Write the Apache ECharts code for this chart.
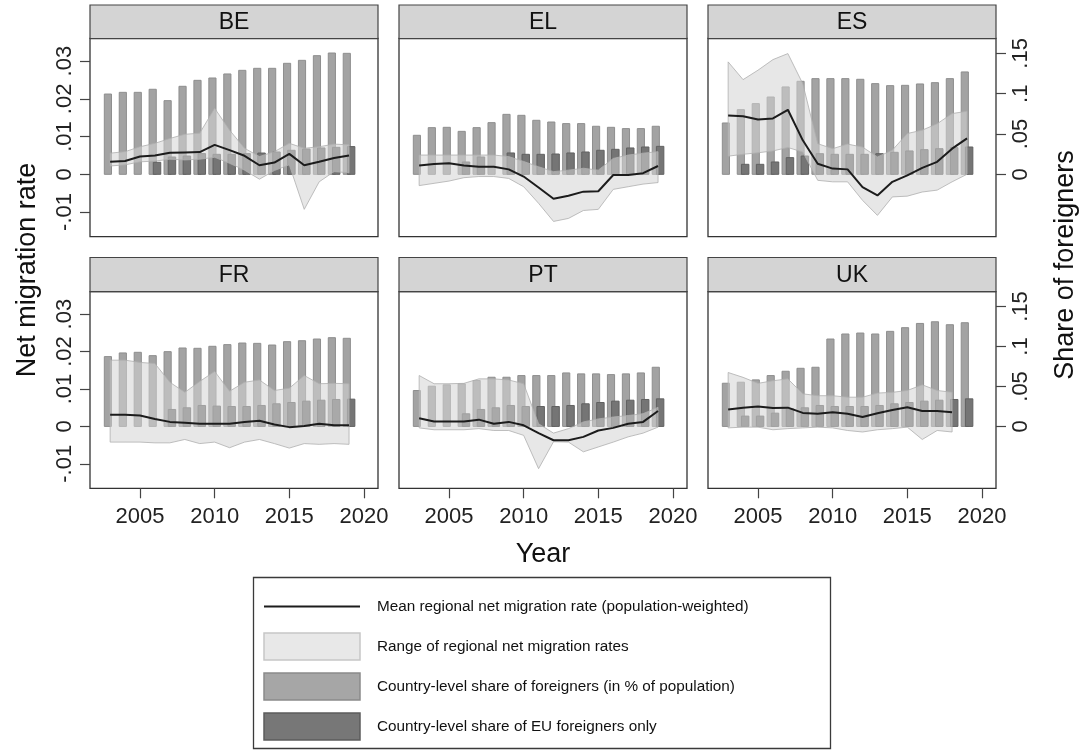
<!DOCTYPE html>
<html>
<head>
<meta charset="utf-8">
<script src="https://cdn.jsdelivr.net/npm/echarts@6/dist/echarts.min.js"></script>
<style>
  html, body { margin: 0; padding: 0; background: #fff; }
  #chart { width: 1085px; height: 751px; }
</style>
</head>
<body>
<div id="chart"></div>
<script>
// ---------- data ----------
const years = [2003, 2004, 2005, 2006, 2007, 2008, 2009, 2010, 2011, 2012, 2013, 2014, 2015, 2016, 2017, 2018, 2019];
const countries = ['BE', 'EL', 'ES', 'FR', 'PT', 'UK'];
const xTicks = [2005, 2010, 2015, 2020];
const rateTicks = [-0.01, 0, 0.01, 0.02, 0.03];
const shareTicks = [0, 0.05, 0.1, 0.15];

// Belgium
const shareBE   = [0.0996, 0.1017, 0.1017, 0.1055, 0.0914, 0.1092, 0.1166, 0.1195, 0.1245, 0.1290, 0.1315, 0.1315, 0.1377, 0.1414, 0.1472, 0.1505, 0.1501];
const shareEuBE = [null, null, null, 0.0149, 0.0215, 0.0227, 0.0257, 0.0248, 0.0248, 0.0257, 0.0264, 0.0277, 0.0298, 0.0314, 0.0327, 0.0335, 0.0344];
const meanBE    = [0.0033, 0.0035, 0.0047, 0.0050, 0.0057, 0.0058, 0.0059, 0.0078, 0.0064, 0.0049, 0.0024, 0.0031, 0.0054, 0.0024, 0.0033, 0.0043, 0.0050];
const lowBE     = [0.0022, 0.0025, 0.0033, 0.0035, 0.0040, 0.0038, 0.0040, 0.0045, 0.0029, 0.0011, -0.0013, 0.0010, 0.0025, -0.0093, -0.0020, 0.0007, 0.0004];
const highBE    = [0.0056, 0.0060, 0.0073, 0.0082, 0.0095, 0.0106, 0.0109, 0.0175, 0.0117, 0.0069, 0.0047, 0.0060, 0.0082, 0.0069, 0.0073, 0.0080, 0.0078];

// Greece
const shareEL   = [0.0484, 0.0579, 0.0583, 0.0533, 0.0579, 0.0641, 0.0744, 0.0732, 0.0670, 0.0649, 0.0629, 0.0629, 0.0596, 0.0583, 0.0567, 0.0567, 0.0596];
const shareEuEL = [null, null, null, 0.0153, 0.0215, null, 0.0265, 0.0248, 0.0248, 0.0252, 0.0265, 0.0277, 0.0298, 0.0310, 0.0327, 0.0339, 0.0347];
const meanEL    = [0.0023, 0.0027, 0.0029, 0.0023, 0.0020, 0.0020, 0.0013, -0.0006, -0.0035, -0.0065, -0.0057, -0.0046, -0.0045, -0.0002, -0.0002, 0.0003, 0.0022];
const lowEL     = [-0.0030, -0.0024, -0.0018, -0.0009, -0.0006, -0.0006, -0.0011, -0.0033, -0.0077, -0.0125, -0.0117, -0.0096, -0.0093, -0.0040, -0.0033, -0.0026, -0.0022];
const highEL    = [0.0051, 0.0051, 0.0051, 0.0051, 0.0051, 0.0051, 0.0047, 0.0034, 0.0020, 0.0007, 0.0011, 0.0016, 0.0011, 0.0042, 0.0051, 0.0056, 0.0060];

// Spain
const shareES   = [0.0637, 0.0802, 0.0877, 0.0959, 0.1084, 0.1154, 0.1187, 0.1187, 0.1187, 0.1179, 0.1125, 0.1100, 0.1104, 0.1121, 0.1137, 0.1187, 0.1270];
const shareEuES = [null, 0.0124, 0.0124, 0.0153, 0.0207, 0.0227, 0.0256, 0.0248, 0.0248, 0.0248, 0.0256, 0.0273, 0.0290, 0.0306, 0.0318, 0.0331, 0.0339];
const meanES    = [0.0156, 0.0154, 0.0145, 0.0148, 0.0171, 0.0090, 0.0028, 0.0015, 0.0013, -0.0034, -0.0056, -0.0020, -0.0003, 0.0017, 0.0033, 0.0068, 0.0095];
const lowES     = [0.0048, 0.0053, 0.0057, 0.0062, 0.0071, 0.0059, -0.0016, -0.0020, -0.0020, -0.0069, -0.0109, -0.0060, -0.0058, -0.0047, -0.0042, -0.0020, 0.0000];
const highES    = [0.0298, 0.0251, 0.0276, 0.0304, 0.0320, 0.0240, 0.0081, 0.0068, 0.0080, 0.0072, 0.0046, 0.0064, 0.0108, 0.0117, 0.0134, 0.0161, 0.0167];

// France
const shareFR   = [0.0873, 0.0919, 0.0927, 0.0885, 0.0935, 0.0981, 0.0977, 0.1002, 0.1023, 0.1043, 0.1039, 0.1018, 0.1060, 0.1072, 0.1093, 0.1110, 0.1102];
const shareEuFR = [null, null, null, null, 0.0212, 0.0233, 0.0262, 0.0254, 0.0249, 0.0249, 0.0262, 0.0283, 0.0299, 0.0316, 0.0328, 0.0337, 0.0341];
const meanFR    = [0.0031, 0.0031, 0.0029, 0.0020, 0.0012, 0.0010, 0.0007, 0.0007, 0.0007, 0.0012, 0.0015, 0.0005, -0.0002, 0.0001, 0.0007, 0.0003, 0.0003];
const lowFR     = [-0.0042, -0.0042, -0.0042, -0.0044, -0.0044, -0.0035, -0.0046, -0.0042, -0.0057, -0.0042, -0.0035, -0.0046, -0.0058, -0.0046, -0.0048, -0.0046, -0.0048];
const highFR    = [0.0177, 0.0177, 0.0171, 0.0168, 0.0118, 0.0091, 0.0120, 0.0147, 0.0094, 0.0118, 0.0124, 0.0096, 0.0102, 0.0136, 0.0114, 0.0115, 0.0114];

// Portugal
const sharePT   = [0.0449, 0.0503, 0.0520, 0.0532, 0.0574, 0.0615, 0.0615, 0.0636, 0.0636, 0.0636, 0.0669, 0.0657, 0.0657, 0.0648, 0.0657, 0.0669, 0.0740];
const shareEuPT = [null, null, null, 0.0158, 0.0212, 0.0233, 0.0262, 0.0249, 0.0249, 0.0249, 0.0262, 0.0283, 0.0299, 0.0316, 0.0328, 0.0337, 0.0345];
const meanPT    = [0.0022, 0.0013, 0.0013, 0.0013, 0.0018, 0.0007, 0.0012, 0.0003, -0.0018, -0.0037, -0.0037, -0.0028, -0.0011, -0.0004, 0.0007, 0.0012, 0.0041];
const lowPT     = [-0.0004, -0.0009, -0.0009, -0.0009, -0.0006, -0.0011, -0.0011, -0.0024, -0.0113, -0.0041, -0.0042, -0.0068, -0.0055, -0.0042, -0.0028, -0.0018, -0.0002];
const highPT    = [0.0136, 0.0114, 0.0114, 0.0115, 0.0127, 0.0127, 0.0124, 0.0114, 0.0007, -0.0018, -0.0006, 0.0012, 0.0020, 0.0025, 0.0029, 0.0034, 0.0051];

// United Kingdom
const shareUK   = [0.0540, 0.0553, 0.0582, 0.0636, 0.0690, 0.0727, 0.0740, 0.1093, 0.1156, 0.1168, 0.1156, 0.1189, 0.1235, 0.1288, 0.1309, 0.1272, 0.1297];
const shareEuUK = [null, 0.0129, 0.0129, 0.0166, 0.0220, 0.0233, 0.0262, 0.0249, 0.0249, 0.0249, 0.0262, 0.0283, 0.0299, 0.0316, 0.0328, 0.0337, 0.0345];
const meanUK    = [0.0045, 0.0050, 0.0053, 0.0049, 0.0050, 0.0036, 0.0034, 0.0038, 0.0034, 0.0025, 0.0035, 0.0044, 0.0051, 0.0041, 0.0041, 0.0038, null];
const lowUK     = [-0.0004, -0.0002, -0.0002, -0.0009, -0.0006, -0.0004, -0.0002, -0.0004, -0.0011, -0.0015, -0.0009, -0.0006, -0.0002, -0.0035, -0.0011, -0.0015, null];
const highUK    = [0.0144, 0.0131, 0.0115, 0.0122, 0.0127, 0.0087, 0.0082, 0.0082, 0.0078, 0.0078, 0.0089, 0.0091, 0.0096, 0.0111, 0.0096, 0.0091, null];

const panels = {
  BE: { share: shareBE, shareEu: shareEuBE, mean: meanBE, low: lowBE, high: highBE },
  EL: { share: shareEL, shareEu: shareEuEL, mean: meanEL, low: lowEL, high: highEL },
  ES: { share: shareES, shareEu: shareEuES, mean: meanES, low: lowES, high: highES },
  FR: { share: shareFR, shareEu: shareEuFR, mean: meanFR, low: lowFR, high: highFR },
  PT: { share: sharePT, shareEu: shareEuPT, mean: meanPT, low: lowPT, high: highPT },
  UK: { share: shareUK, shareEu: shareEuUK, mean: meanUK, low: lowUK, high: highUK }
};

// ---------- layout & style ----------
const FONT = '"Liberation Sans", Arial, Helvetica, sans-serif';
const colLeft = [90, 399, 708];
const plotW = 288;
const rowTop = [38.5, 291.7];
const rowH = [198.2, 196.6];
const headerTop = [5, 257.5];
const X_MIN = 2001.651, X_MAX = 2020.94;
const RATE_MIN = -0.01655, RATE_MAX = 0.036;
const SHARE_MIN = -0.0774, SHARE_MAX = 0.1685;

const LIGHT_BAR = { fill: '#a3a3a3', stroke: '#8e8e8e' };
const DARK_BAR = { fill: '#757575', stroke: '#616161' };
const RANGE_FILL = 'rgba(212,212,212,0.55)';
const RANGE_STROKE = 'rgba(175,175,175,0.8)';
const LINE_COLOR = '#1c1c1c';

function stataNum(v) {
  if (Math.abs(v) < 1e-12) return '0';
  const s = String(+Math.abs(v).toFixed(3)).replace(/^0/, '');
  return (v < 0 ? '-' : '') + s;
}

function pairs(vals) {
  const out = [];
  vals.forEach((v, i) => { if (v !== null && v !== undefined) out.push([years[i], v]); });
  return out;
}

function barRenderer(offset, width, look) {
  return function (params, api) {
    const yr = api.value(0), v = api.value(1);
    const a = api.coord([yr + offset - width / 2, 0]);
    const b = api.coord([yr + offset + width / 2, v]);
    return {
      type: 'rect',
      shape: { x: a[0], y: Math.min(a[1], b[1]), width: b[0] - a[0], height: Math.abs(a[1] - b[1]) },
      style: { fill: look.fill, stroke: look.stroke, lineWidth: 1 }
    };
  };
}

function rangeRenderer(rows) {
  return function (params, api) {
    if (params.dataIndex !== 0) return null;
    const pts = [];
    rows.forEach(r => pts.push(api.coord([r[0], r[2]])));
    for (let i = rows.length - 1; i >= 0; i--) pts.push(api.coord([rows[i][0], rows[i][1]]));
    return {
      type: 'polygon',
      shape: { points: pts },
      style: { fill: RANGE_FILL, stroke: RANGE_STROKE, lineWidth: 1 }
    };
  };
}

const grid = [], xAxis = [], yAxis = [], series = [], graphic = [];

countries.forEach((code, i) => {
  const row = Math.floor(i / 3), col = i % 3;
  const d = panels[code];
  const left = colLeft[col], top = rowTop[row], h = rowH[row];

  grid.push({ left: left, top: top, width: plotW, height: h, show: true, borderColor: '#333', borderWidth: 1.3, backgroundColor: '#fff', containLabel: false });

  xAxis.push({
    gridIndex: i, type: 'value', position: 'bottom', min: X_MIN, max: X_MAX,
    axisLine: { show: false, onZero: false },
    splitLine: { show: false },
    axisTick: { show: row === 1, customValues: xTicks, length: 10, lineStyle: { color: '#444', width: 1.2 } },
    axisLabel: { show: row === 1, customValues: xTicks, margin: 18, fontSize: 22, color: '#222', fontFamily: FONT, formatter: v => String(v) }
  });

  yAxis.push({
    gridIndex: i, type: 'value', position: 'left', min: RATE_MIN, max: RATE_MAX,
    axisLine: { show: false, onZero: false },
    splitLine: { show: false },
    axisTick: { show: col === 0, customValues: rateTicks, length: 10, lineStyle: { color: '#444', width: 1.2 } },
    axisLabel: { show: col === 0, customValues: rateTicks, rotate: 90, margin: 14, fontSize: 22, color: '#222', fontFamily: FONT, formatter: stataNum }
  });
  yAxis.push({
    gridIndex: i, type: 'value', position: 'right', min: SHARE_MIN, max: SHARE_MAX,
    axisLine: { show: false, onZero: false },
    splitLine: { show: false },
    axisTick: { show: col === 2, customValues: shareTicks, length: 10, lineStyle: { color: '#444', width: 1.2 } },
    axisLabel: { show: col === 2, customValues: shareTicks, rotate: 90, margin: 14, fontSize: 22, color: '#222', fontFamily: FONT, formatter: stataNum }
  });

  const rangeRows = [];
  years.forEach((y, k) => { if (d.low[k] !== null && d.high[k] !== null) rangeRows.push([y, d.low[k], d.high[k]]); });

  series.push({
    name: 'Country-level share of foreigners (in % of population)',
    type: 'custom', xAxisIndex: i, yAxisIndex: 2 * i + 1, z: 1, silent: true,
    encode: { x: 0, y: 1 },
    renderItem: barRenderer(-0.15, 0.48, LIGHT_BAR),
    data: pairs(d.share)
  });
  series.push({
    name: 'Country-level share of EU foreigners only',
    type: 'custom', xAxisIndex: i, yAxisIndex: 2 * i + 1, z: 2, silent: true,
    encode: { x: 0, y: 1 },
    renderItem: barRenderer(0.14, 0.5, DARK_BAR),
    data: pairs(d.shareEu)
  });
  series.push({
    name: 'Range of regional net migration rates',
    type: 'custom', xAxisIndex: i, yAxisIndex: 2 * i, z: 3, silent: true,
    encode: { x: 0, y: [1, 2] },
    renderItem: rangeRenderer(rangeRows),
    data: rangeRows
  });
  series.push({
    name: 'Mean regional net migration rate (population-weighted)',
    type: 'line', xAxisIndex: i, yAxisIndex: 2 * i, z: 4, silent: true,
    symbol: 'none', showSymbol: false,
    lineStyle: { color: LINE_COLOR, width: 2 },
    data: pairs(d.mean)
  });

  // panel header strip
  const hTop = headerTop[row];
  graphic.push({
    type: 'rect', silent: true,
    shape: { x: left, y: hTop, width: plotW, height: top - hTop },
    style: { fill: '#d4d4d4', stroke: '#444', lineWidth: 1.2 }
  });
  graphic.push({
    type: 'text', silent: true, x: left + plotW / 2, y: (hTop + top) / 2 + 1,
    style: { text: code, font: '23px ' + FONT, fill: '#111', align: 'center', verticalAlign: 'middle' }
  });
});

// axis titles
graphic.push({
  type: 'text', silent: true, x: 28, y: 270, rotation: Math.PI / 2,
  style: { text: 'Net migration rate', font: '27px ' + FONT, fill: '#111', align: 'center', verticalAlign: 'middle' }
});
graphic.push({
  type: 'text', silent: true, x: 1066, y: 265, rotation: Math.PI / 2,
  style: { text: 'Share of foreigners', font: '27px ' + FONT, fill: '#111', align: 'center', verticalAlign: 'middle' }
});
graphic.push({
  type: 'text', silent: true, x: 543, y: 555,
  style: { text: 'Year', font: '27px ' + FONT, fill: '#111', align: 'center', verticalAlign: 'middle' }
});

// key
const keyItems = [
  { label: 'Mean regional net migration rate (population-weighted)', kind: 'line' },
  { label: 'Range of regional net migration rates', kind: 'box', fill: '#e8e8e8', stroke: '#c6c6c6' },
  { label: 'Country-level share of foreigners (in % of population)', kind: 'box', fill: '#a6a6a6', stroke: '#8a8a8a' },
  { label: 'Country-level share of EU foreigners only', kind: 'box', fill: '#777777', stroke: '#5c5c5c' }
];
graphic.push({
  type: 'rect', silent: true,
  shape: { x: 253.5, y: 577.5, width: 577, height: 171 },
  style: { fill: '#fff', stroke: '#3a3a3a', lineWidth: 1.3 }
});
keyItems.forEach((it, k) => {
  const cy = 606.5 + k * 40;
  if (it.kind === 'line') {
    graphic.push({ type: 'line', silent: true, shape: { x1: 264, y1: cy, x2: 360, y2: cy }, style: { stroke: LINE_COLOR, lineWidth: 2 } });
  } else {
    graphic.push({ type: 'rect', silent: true, shape: { x: 264, y: cy - 13.5, width: 96, height: 27 }, style: { fill: it.fill, stroke: it.stroke, lineWidth: 1.5 } });
  }
  graphic.push({
    type: 'text', silent: true, x: 377, y: cy,
    style: { text: it.label, font: '15.3px ' + FONT, fill: '#111', align: 'left', verticalAlign: 'middle' }
  });
});

const chart = echarts.init(document.getElementById('chart'), null, { renderer: 'canvas' });
chart.setOption({
  animation: false,
  backgroundColor: '#fff',
  grid, xAxis, yAxis, series, graphic
});
</script>
</body>
</html>
